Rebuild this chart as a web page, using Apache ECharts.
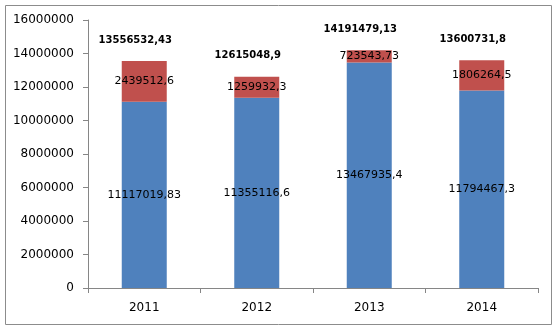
<!DOCTYPE html>
<html>
<head>
<meta charset="utf-8">
<script src="https://cdn.jsdelivr.net/npm/echarts@6/dist/echarts.min.js"></script>
<style>
  html, body { margin: 0; padding: 0; background: #fff; }
  #chart { width: 559px; height: 332px; }
</style>
</head>
<body>
<div id="chart"></div>
<script>
const years = ['2011', '2012', '2013', '2014'];
const baseValues = [11117019.83, 11355116.6, 13467935.4, 11794467.3];
const extraValues = [2439512.6, 1259932.3, 723543.73, 1806264.5];
const totalValues = [13556532.43, 12615048.9, 14191479.13, 13600731.8];

// excel style decimal comma
const fmt = (v) => String(v).replace('.', ',');

const chart = echarts.init(document.getElementById('chart'));
const font = 'DejaVu Sans';

const option = {
    animation: false,
    graphic: [{
        type: 'rect',
        shape: { x: 5.5, y: 5.5, width: 546, height: 319 },
        style: { fill: 'none', stroke: '#8c8c8c', lineWidth: 1 }
    }],
    grid: { left: 88, right: 21, top: 20, bottom: 44 },
    xAxis: {
        type: 'category',
        data: years,
        axisLine: { lineStyle: { color: '#868686' } },
        axisTick: { show: true, length: 5, lineStyle: { color: '#868686' } },
        axisLabel: { color: '#000', fontFamily: font, fontSize: 12, margin: 14 }
    },
    yAxis: {
        type: 'value',
        min: 0,
        max: 16000000,
        interval: 2000000,
        splitLine: { show: false },
        axisLine: { show: true, lineStyle: { color: '#868686' } },
        axisTick: { show: true, length: 5, lineStyle: { color: '#868686' } },
        axisLabel: {
            color: '#000', fontFamily: font, fontSize: 12, margin: 14,
            formatter: (v) => String(v)
        }
    },
    series: [
        {
            name: 'base',
            type: 'bar',
            stack: 'total',
            barWidth: 45,
            data: baseValues,
            itemStyle: { color: '#4F81BD' },
            label: {
                show: true,
                position: 'inside',
                color: '#000',
                fontFamily: font,
                fontSize: 11,
                formatter: (p) => fmt(p.value)
            }
        },
        {
            name: 'extra',
            type: 'bar',
            stack: 'total',
            barWidth: 45,
            data: extraValues,
            itemStyle: { color: '#C0504D' },
            label: {
                show: true,
                position: 'inside',
                color: '#000',
                fontFamily: font,
                fontSize: 11,
                formatter: (p) => fmt(p.value)
            }
        },
        {
            name: 'total',
            type: 'bar',
            barWidth: 45,
            barGap: '-100%',
            z: 0,
            silent: true,
            data: totalValues,
            itemStyle: { color: 'rgba(0,0,0,0)' },
            label: {
                show: true,
                position: 'top',
                distance: 16,
                offset: [-9, 0],
                color: '#000',
                fontFamily: font,
                fontSize: 10,
                fontWeight: 'bold',
                formatter: (p) => fmt(p.value)
            }
        }
    ]
};

chart.setOption(option);
</script>
</body>
</html>
